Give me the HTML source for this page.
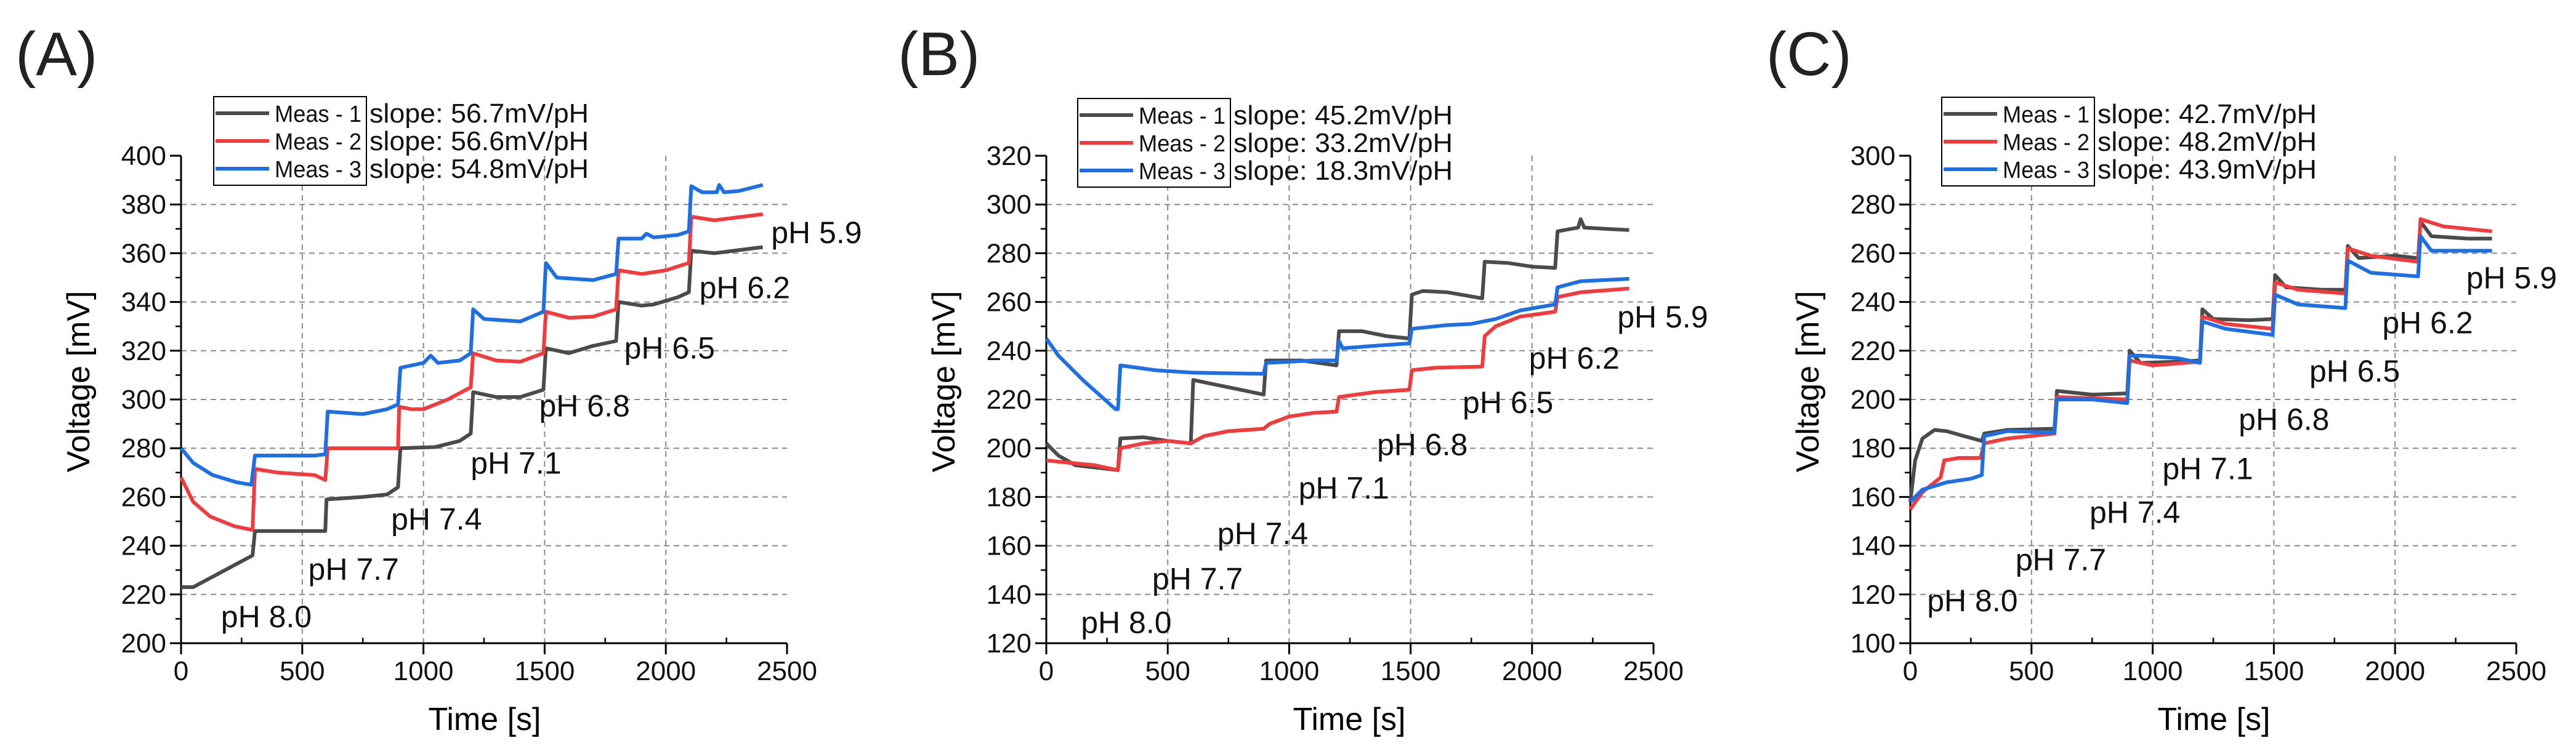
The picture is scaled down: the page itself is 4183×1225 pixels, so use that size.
<!DOCTYPE html>
<html><head><meta charset="utf-8"><style>
html,body{margin:0;padding:0;background:#fff;}
svg{display:block;font-family:"Liberation Sans",Arial,sans-serif;}
</style></head><body>
<svg id="fig" width="4183" height="1225" viewBox="0 0 4183 1225" xmlns="http://www.w3.org/2000/svg"></svg>
<script>
// ---- Panel A data ----
const aT1=[0,50,295,305,595,600,750,850,895,905,1050,1150,1195,1205,1300,1400,1495,1505,1600,1700,1795,1805,1900,1950,2050,2095,2105,2200,2400];
const aV1=[223,223,236,246,246,259,260,261,264,280,280.5,283,286,303,301,301,304,321,319,322,324,340,338.5,339,342,344,361,360,362.5];
const aT2=[0,50,120,220,295,305,400,550,595,605,895,900,950,1000,1100,1195,1205,1300,1400,1495,1505,1600,1700,1795,1805,1900,2000,2095,2105,2200,2400];
const aV2=[268,258,252,248,246.5,271.5,270,269,267,280,280,297,296,296,300,305,319,316,315.5,319,336,333.5,334,337,353,351.5,353,356,375,373.5,376];
const aT3=[0,50,130,230,290,305,550,595,605,750,850,895,905,1000,1030,1060,1150,1195,1205,1250,1400,1495,1505,1550,1700,1795,1805,1900,1920,1950,2050,2095,2105,2150,2210,2220,2240,2300,2400];
const aV3=[280,274,269,266,265,277,277,277.5,295,294,296,298,313,315,318,315,316,319,337,333,332,336,356,350,349,351.5,366,366,368,366.5,367.5,369,387.5,385,385,388,385,385.5,388];
const aYTicks=[200,220,240,260,280,300,320,340,360,380,400];
const aSlopes=["56.7","56.6","54.8"];
// ---- Panel B data ----
const bT1=[0,50,120,295,305,400,500,595,605,700,800,895,905,1050,1195,1205,1300,1400,1495,1505,1550,1650,1795,1805,1900,2000,2095,2105,2190,2200,2215,2300,2400];
const bV1=[202,197,193,191,204,204.5,203,202,228,226,224,222,236,236,234,248,248,246,245,263,264.5,264,261.5,276.5,276,274.5,274,289,290.5,294,290.5,290,289.5];
const bT2=[0,100,200,295,305,400,500,595,650,750,895,920,1000,1100,1195,1205,1350,1495,1505,1600,1795,1805,1850,1950,2095,2105,2200,2400];
const bV2=[195,194,193,191,200,202,203,202,205,207,208,210,213,214.5,215,221,223,224,232,233,233.5,246,250,254,256,262,264,265.5];
const bT3=[0,50,150,285,295,305,450,600,895,905,1100,1195,1205,1220,1350,1495,1505,1650,1750,1850,1950,2095,2105,2200,2400];
const bV3=[245,238,228,216,216,234,232,231,230.5,235,236,236,244,241,242,243,249,250.5,251,253,256.5,259,266,268.5,269.5];
const bYTicks=[120,140,160,180,200,220,240,260,280,300,320];
const bSlopes=["45.2","33.2","18.3"];
// ---- Panel C data ----
const cT1=[0,20,50,100,150,220,295,305,400,595,605,750,895,905,950,1100,1195,1205,1250,1400,1495,1505,1550,1700,1795,1805,1850,2000,2095,2105,2150,2300,2400];
const cV1=[158,175,184,187.5,187,185,183,186,187.5,188,203.5,202,202.5,220,215,215.5,216,237,233,232.5,233,251,246,245,245,263,258,259,258,273,267,266,266];
const cT2=[0,50,100,125,140,200,290,305,400,595,605,750,895,905,1000,1195,1205,1300,1495,1505,1600,1795,1805,1900,2095,2105,2200,2400];
const cV2=[155,162,166,168,175,176,176,182,184,186,201,200.5,200,216,214,215.5,234,231,229,248,245,243.5,262,259,256.5,274,271,269];
const cT3=[0,50,150,250,295,305,400,595,605,750,895,905,950,1100,1195,1205,1300,1495,1505,1600,1795,1805,1900,2095,2105,2150,2400];
const cV3=[158,163,166,167.5,169,185,187,186.5,200,200,198.5,218,218,217,215,232,229,226.5,243,239,237.5,257,252,250.5,267,261,261];
const cYTicks=[100,120,140,160,180,200,220,240,260,280,300];
const cSlopes=["42.7","48.2","43.9"];
const xTicks=[0,500,1000,1500,2000,2500];
const phLabels=["pH 8.0","pH 7.7","pH 7.4","pH 7.1","pH 6.8","pH 6.5","pH 6.2","pH 5.9"];

const NS="http://www.w3.org/2000/svg";
const svg=document.getElementById('fig');
function mk(tag,attrs,parent){const e=document.createElementNS(NS,tag);for(const k in attrs)e.setAttribute(k,attrs[k]);(parent||svg).appendChild(e);return e;}
const COLORS=["#4b4b4b","#f03c3c","#1e6fe3"];
const KX=0.897, KY=0.785;

function panel(cfg){
  const g=mk('g',{});
  
  
  const x0=cfg.x0,x1=cfg.x1,yTop=253,yBot=1045;
  const ymin=cfg.yt[0],ymax=cfg.yt[cfg.yt.length-1];
  const sx=t=>x0+(t/2500)*(x1-x0);
  const sy=v=>yBot-(v-ymin)/(ymax-ymin)*(yBot-yTop);
  const L=mk('text',{x:cfg.lx,y:122,'font-size':100,fill:'#222'},g);L.textContent='('+cfg.id.toUpperCase()+')';
  
  
  cfg.yt.forEach((v,i)=>{ if(i===0||i===cfg.yt.length-1)return;
    const l=mk('line',{x1:x0,x2:x1,y1:sy(v),y2:sy(v),stroke:'#8a8a8a','stroke-width':2,'stroke-dasharray':'9,7'},g);
    
    });
  xTicks.forEach((t,i)=>{ if(i===0||i===xTicks.length-1)return;
    const l=mk('line',{x1:sx(t),x2:sx(t),y1:yTop,y2:yBot,stroke:'#8a8a8a','stroke-width':2,'stroke-dasharray':'9,7'},g);
    
    });
  const ax=mk('path',{d:`M${x0},${yTop}V${yBot}H${x1}`,stroke:'#000','stroke-width':3,fill:'none'},g);
  
  
  cfg.yt.forEach((v,i)=>{
    mk('line',{x1:x0-18,x2:x0,y1:sy(v),y2:sy(v),stroke:'#000','stroke-width':3},g);
    if(i<cfg.yt.length-1){const m=(v+cfg.yt[i+1])/2;mk('line',{x1:x0-9,x2:x0,y1:sy(m),y2:sy(m),stroke:'#000','stroke-width':2.5},g);}
    const tx=mk('text',{x:x0-24,y:sy(v)+15,'font-size':44,'text-anchor':'end',fill:'#111'},g);tx.textContent=v;
    
    
  });
  xTicks.forEach((t,i)=>{
    mk('line',{x1:sx(t),x2:sx(t),y1:yBot,y2:yBot+18,stroke:'#000','stroke-width':3},g);
    if(i<xTicks.length-1){const m=t+250;mk('line',{x1:sx(m),x2:sx(m),y1:yBot-9,y2:yBot,stroke:'#000','stroke-width':2.5},g);}
    const tx=mk('text',{x:sx(t),y:1105,'font-size':44,'text-anchor':'middle',fill:'#111'},g);tx.textContent=t;
    
    
  });
  const xt=mk('text',{x:cfg.xtc,y:1186,'font-size':52,'text-anchor':'middle',fill:'#000'},g);xt.textContent='Time [s]';
  
  
  const yt=mk('text',{x:0,y:0,'font-size':52,'text-anchor':'middle',fill:'#000',transform:`translate(${cfg.ytx},${620}) rotate(-90)`},g);yt.textContent='Voltage [mV]';
  
  
  cfg.series.forEach((s,k)=>{
    const d=s[0].map((t,i)=>(i?'L':'M')+sx(t).toFixed(1)+','+sy(s[1][i]).toFixed(1)).join('');
    const p=mk('path',{d:d,stroke:COLORS[k],'stroke-width':6,fill:'none','stroke-linejoin':'round'},g);
    
    
  });
  cfg.ph.forEach((pt,i)=>{
    const tx=mk('text',{x:pt[0],y:pt[1],'font-size':50,fill:'#111'},g);tx.textContent=phLabels[i];
    
    
  });
  const lg=mk('g',{},g);
  
  
  const bx=cfg.leg[0],by=cfg.leg[1];
  mk('rect',{x:bx,y:by,width:248,height:144,fill:'#fff',stroke:'#000','stroke-width':2},lg);
  for(let k=0;k<3;k++){
    const cy=by+27+k*45;
    mk('line',{x1:bx+3,x2:bx+90,y1:cy,y2:cy,stroke:COLORS[k],'stroke-width':6},lg);
    const t1=mk('text',{x:bx+99,y:cy+14,'font-size':38,fill:'#111',textLength:141,lengthAdjust:'spacingAndGlyphs'},lg);t1.textContent='Meas - '+(k+1);
    
    
    const t2=mk('text',{x:bx+253,y:cy+15,'font-size':44,fill:'#111',textLength:356,lengthAdjust:'spacingAndGlyphs'},lg);t2.textContent='slope: '+cfg.slopes[k]+'mV/pH';
    
    
  }
}
function phPos(off,arr){return arr.map(p=>[off+p[0]*KX,p[1]*KY]);}
panel({id:'a',x0:294,x1:1278,yt:aYTicks,lx:25,xtc:787,ytx:145,
  series:[[aT1,aV1],[aT2,aV2],[aT3,aV3]],slopes:aSlopes,leg:[347,157],
  ph:phPos(0,[[400,1298],[558,1200],[708,1096],[852,980],[976,862],[1130,742],[1266,617],[1396,503]])});
panel({id:'b',x0:1699,x1:2685,yt:bYTicks,lx:1458,xtc:2191,ytx:1550,
  series:[[bT1,bV1],[bT2,bV2],[bT3,bV3]],slopes:bSlopes,leg:[1750,160],
  ph:phPos(1400,[[396,1310],[525,1220],[643,1126],[790,1032],[932,942],[1087,855],[1207,763],[1367,678]])});
panel({id:'c',x0:3102,x1:4086,yt:cYTicks,lx:2868,xtc:3595,ytx:2953,
  series:[[cT1,cV1],[cT2,cV2],[cT3,cV3]],slopes:cSlopes,leg:[3153,158],
  ph:phPos(2783,[[386,1265],[546,1180],[680,1082],[812,992],[950,890],[1078,790],[1210,690],[1362,597]])});
</script>
</body></html>
